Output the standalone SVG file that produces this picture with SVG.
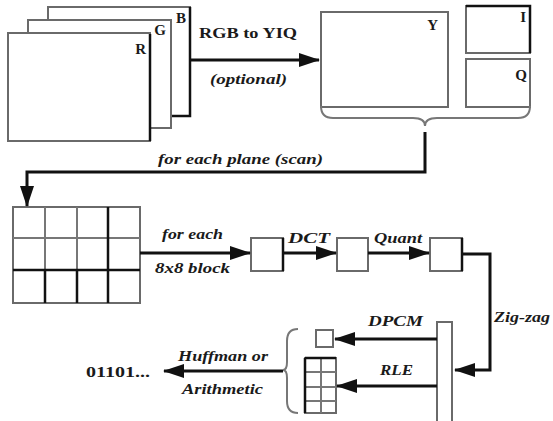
<svg xmlns="http://www.w3.org/2000/svg" width="553" height="421" viewBox="0 0 553 421">
<style>
.bx{fill:#fff;stroke:#6a6a6a;stroke-width:2}
.dk{stroke:#111;stroke-width:2.5;fill:none}
.gl{stroke:#777;stroke-width:2;fill:none}
.ln{stroke:#111;stroke-width:3;fill:none}
.lab{font-family:'Liberation Serif','DejaVu Serif','Times New Roman',serif;font-weight:bold;fill:#1a1a1a}
.it{font-family:'Liberation Serif','DejaVu Serif','Times New Roman',serif;font-weight:bold;font-style:italic;fill:#1a1a1a;font-size:14px}
</style>
<defs>
<marker id="ah" markerUnits="userSpaceOnUse" markerWidth="22" markerHeight="16" refX="20" refY="7" orient="auto">
<path d="M0,0 L21,7 L0,14 Z" fill="#111"/>
</marker>
</defs>
<rect width="553" height="421" fill="#fff"/>

<g id="planeB"><rect class="bx" x="48" y="7" width="142" height="109"/><path class="dk" d="M190,7 V116 H172"/><text class="lab" x="186" y="23" font-size="15" text-anchor="end">B</text></g>
<g id="planeG"><rect class="bx" x="28" y="20" width="143" height="108"/><text class="lab" x="166" y="35" font-size="15" text-anchor="end">G</text></g>
<g id="planeR"><rect class="bx" x="8" y="33" width="142" height="108"/><path class="dk" d="M150,34 V141"/><text class="lab" x="146" y="54" font-size="15" text-anchor="end">R</text></g>

<g id="Y"><rect class="bx" x="321" y="12" width="127" height="95"/><text class="lab" x="438" y="30" font-size="15" text-anchor="end">Y</text></g>
<g id="I"><rect class="bx" x="466" y="6" width="64" height="47"/><path class="dk" d="M466,6 H530 V53"/><text class="lab" x="526" y="22" font-size="15" text-anchor="end">I</text></g>
<g id="Q"><rect class="bx" x="466" y="59" width="64" height="48"/><text class="lab" x="527" y="80" font-size="15" text-anchor="end">Q</text></g>

<g id="grid">
<rect class="bx" x="13" y="207" width="127" height="96"/>
<path class="gl" d="M45,207 V303 M77,207 V303 M13,238 H140"/>
<path class="dk" d="M108,207 V303 M13,270 H140 M45,270 V303 M77,270 V303"/>
</g>

<g id="b1"><rect class="bx" x="251" y="238" width="32" height="33"/><path class="dk" d="M283,238 V271"/></g>
<g id="b2"><rect class="bx" x="337" y="238" width="31" height="33"/></g>
<g id="b3"><rect class="bx" x="430" y="238" width="32" height="33"/><path class="dk" d="M462,238 V271"/></g>

<g id="bar"><rect class="bx" x="437" y="322" width="15" height="101"/></g>
<g id="dc"><rect class="bx" x="316" y="330" width="17" height="17"/></g>
<g id="ac">
<rect class="bx" x="305" y="358" width="31" height="55"/>
<path class="gl" d="M321,358 V413 M305,372 H336 M305,387 H336 M305,401 H336"/>
<path class="dk" d="M305,358 V413 M305,358 H336"/>
</g>
<g id="out"><text class="lab" x="86" y="377" font-size="14" textLength="64" lengthAdjust="spacingAndGlyphs">01101...</text></g>

<g id="connectors">
<path class="ln" d="M190,60 H319" marker-end="url(#ah)"/>
<path class="gl" d="M321,106 Q321,118 333,118 L413,118 Q425,118 425,126 Q425,118 437,118 L518,118 Q530,118 530,106" stroke="#333"/>
<path class="ln" d="M425,132 V172 H27 V206" marker-end="url(#ah)"/>
<path class="ln" d="M140,253 H250" marker-end="url(#ah)"/>
<path class="ln" d="M283,253 H336" marker-end="url(#ah)"/>
<path class="ln" d="M368,253 H429" marker-end="url(#ah)"/>
<path class="ln" d="M462,254 H490 V370 H455" marker-end="url(#ah)"/>
<path class="ln" d="M437,339 H335" marker-end="url(#ah)"/>
<path class="ln" d="M437,386 H337" marker-end="url(#ah)"/>
<path class="gl" d="M298,329 Q287,329 287,341 L287,362 Q287,370 283,370 Q287,370 287,378 L287,401 Q287,413 298,413" stroke="#111"/>
<path class="ln" d="M283,371 H164" marker-end="url(#ah)"/>
</g>

<g id="labels">
<text class="lab" x="199" y="38" font-size="15" textLength="98" lengthAdjust="spacingAndGlyphs">RGB to YIQ</text>
<text class="it" x="210" y="84" textLength="77" lengthAdjust="spacingAndGlyphs">(optional)</text>
<text class="it" x="158" y="164" textLength="165" lengthAdjust="spacingAndGlyphs">for each plane (scan)</text>
<text class="it" x="162" y="239" textLength="61" lengthAdjust="spacingAndGlyphs">for each</text>
<text class="it" x="155" y="273" textLength="75" lengthAdjust="spacingAndGlyphs">8x8 block</text>
<text class="it" x="288" y="243" textLength="42" lengthAdjust="spacingAndGlyphs">DCT</text>
<text class="it" x="374" y="243" textLength="48" lengthAdjust="spacingAndGlyphs">Quant</text>
<text class="it" x="494" y="322" textLength="56" lengthAdjust="spacingAndGlyphs">Zig-zag</text>
<text class="it" x="368" y="326" textLength="55" lengthAdjust="spacingAndGlyphs">DPCM</text>
<text class="it" x="380" y="375" textLength="33" lengthAdjust="spacingAndGlyphs">RLE</text>
<text class="it" x="178" y="361" textLength="90" lengthAdjust="spacingAndGlyphs">Huffman or</text>
<text class="it" x="182" y="394" textLength="81" lengthAdjust="spacingAndGlyphs">Arithmetic</text>
</g>
</svg>
